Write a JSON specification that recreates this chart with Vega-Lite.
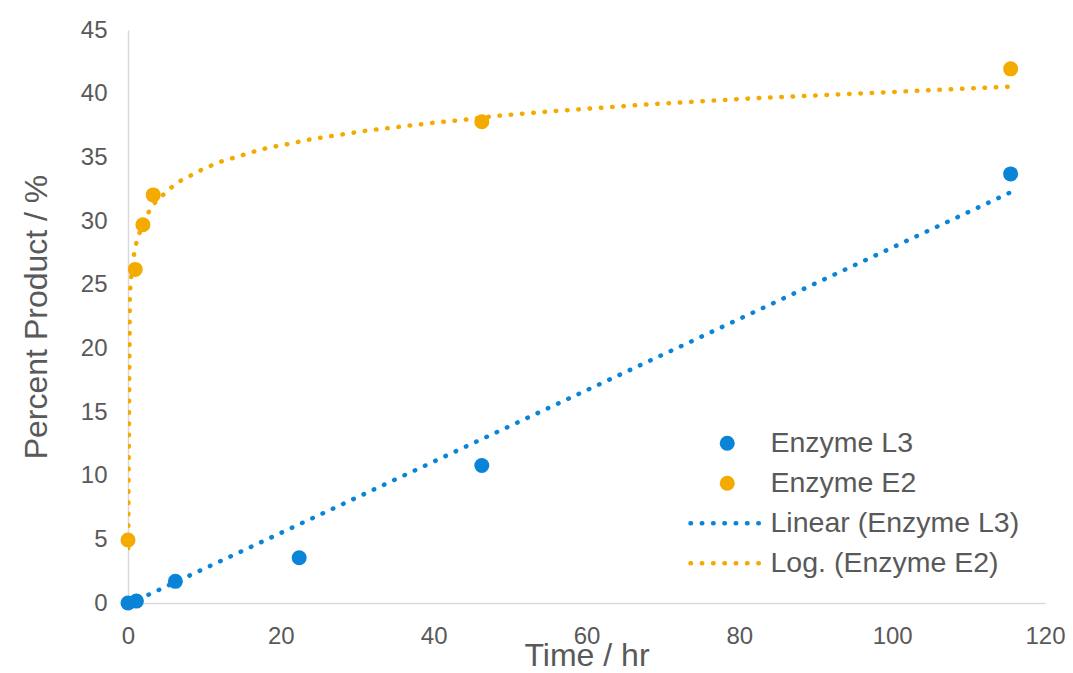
{
  "$schema": "https://vega.github.io/schema/vega-lite/v6.json",
  "width": 917,
  "height": 573,
  "autosize": "none",
  "padding": {"left": 128, "top": 30, "right": 28, "bottom": 70},
  "background": "white",
  "config": {
    "view": {"stroke": null},
    "font": "Liberation Sans",
    "axis": {
      "grid": false,
      "ticks": false,
      "labelFlush": false,
      "domainColor": "#D9D9D9",
      "domainWidth": 1.5,
      "labelColor": "#595959",
      "labelFont": "Liberation Sans",
      "labelFontSize": 24,
      "titleColor": "#595959",
      "titleFont": "Liberation Sans",
      "titleFontSize": 32,
      "titleFontWeight": "normal"
    }
  },
  "datasets": {
    "points": [
      {"time": 0, "product": 0, "series": "Enzyme L3"},
      {"time": 1.1, "product": 0.15, "series": "Enzyme L3"},
      {"time": 6.2, "product": 1.7, "series": "Enzyme L3"},
      {"time": 22.4, "product": 3.55, "series": "Enzyme L3"},
      {"time": 46.3, "product": 10.8, "series": "Enzyme L3"},
      {"time": 115.5, "product": 33.7, "series": "Enzyme L3"},
      {"time": 0, "product": 4.95, "series": "Enzyme E2"},
      {"time": 0.95, "product": 26.2, "series": "Enzyme E2"},
      {"time": 1.95, "product": 29.7, "series": "Enzyme E2"},
      {"time": 3.3, "product": 32.05, "series": "Enzyme E2"},
      {"time": 46.3, "product": 37.8, "series": "Enzyme E2"},
      {"time": 115.5, "product": 41.95, "series": "Enzyme E2"}
    ],
    "linear": [
      {"time": 0, "product": -0.1, "series": "Linear (Enzyme L3)"},
      {"time": 115.5, "product": 32.25, "series": "Linear (Enzyme L3)"}
    ],
    "log": [
      {"time": 0.02, "product": 4.3, "series": "Log. (Enzyme E2)"},
      {"time": 0.24, "product": 24.2, "series": "Log. (Enzyme E2)"},
      {"time": 0.33, "product": 25.0, "series": "Log. (Enzyme E2)"},
      {"time": 0.55, "product": 26.4, "series": "Log. (Enzyme E2)"},
      {"time": 0.85, "product": 27.6, "series": "Log. (Enzyme E2)"},
      {"time": 1.1, "product": 28.3, "series": "Log. (Enzyme E2)"},
      {"time": 1.9, "product": 29.8, "series": "Log. (Enzyme E2)"},
      {"time": 2.8, "product": 30.8, "series": "Log. (Enzyme E2)"},
      {"time": 3.6, "product": 31.5, "series": "Log. (Enzyme E2)"},
      {"time": 4.5, "product": 32.0, "series": "Log. (Enzyme E2)"},
      {"time": 5.6, "product": 32.6, "series": "Log. (Enzyme E2)"},
      {"time": 6.7, "product": 33.1, "series": "Log. (Enzyme E2)"},
      {"time": 8.0, "product": 33.5, "series": "Log. (Enzyme E2)"},
      {"time": 9.2, "product": 33.9, "series": "Log. (Enzyme E2)"},
      {"time": 10.5, "product": 34.25, "series": "Log. (Enzyme E2)"},
      {"time": 11.8, "product": 34.6, "series": "Log. (Enzyme E2)"},
      {"time": 13.2, "product": 34.85, "series": "Log. (Enzyme E2)"},
      {"time": 14.6, "product": 35.1, "series": "Log. (Enzyme E2)"},
      {"time": 15.9, "product": 35.35, "series": "Log. (Enzyme E2)"},
      {"time": 17.3, "product": 35.6, "series": "Log. (Enzyme E2)"},
      {"time": 18.7, "product": 35.8, "series": "Log. (Enzyme E2)"},
      {"time": 20.1, "product": 35.95, "series": "Log. (Enzyme E2)"},
      {"time": 21.5, "product": 36.1, "series": "Log. (Enzyme E2)"},
      {"time": 22.9, "product": 36.3, "series": "Log. (Enzyme E2)"},
      {"time": 24.2, "product": 36.45, "series": "Log. (Enzyme E2)"},
      {"time": 31.3, "product": 37.1, "series": "Log. (Enzyme E2)"},
      {"time": 39.7, "product": 37.7, "series": "Log. (Enzyme E2)"},
      {"time": 44.0, "product": 37.95, "series": "Log. (Enzyme E2)"},
      {"time": 48.1, "product": 38.25, "series": "Log. (Enzyme E2)"},
      {"time": 55.1, "product": 38.6, "series": "Log. (Enzyme E2)"},
      {"time": 67.9, "product": 39.15, "series": "Log. (Enzyme E2)"},
      {"time": 80.7, "product": 39.6, "series": "Log. (Enzyme E2)"},
      {"time": 93.5, "product": 39.95, "series": "Log. (Enzyme E2)"},
      {"time": 106.1, "product": 40.3, "series": "Log. (Enzyme E2)"},
      {"time": 115.5, "product": 40.55, "series": "Log. (Enzyme E2)"}
    ]
  },
  "encoding": {
    "x": {
      "field": "time",
      "type": "quantitative",
      "scale": {"domain": [0, 120], "nice": false, "zero": false},
      "axis": {
        "title": "Time / hr",
        "values": [0, 20, 40, 60, 80, 100, 120],
        "labelPadding": 21,
        "titlePadding": -8
      }
    },
    "y": {
      "field": "product",
      "type": "quantitative",
      "scale": {"domain": [0, 45], "nice": false},
      "axis": {
        "title": "Percent Product / %",
        "values": [0, 5, 10, 15, 20, 25, 30, 35, 40, 45],
        "labelPadding": 21,
        "titlePadding": 27
      }
    },
    "color": {
      "field": "series",
      "type": "nominal",
      "scale": {
        "domain": ["Enzyme L3", "Enzyme E2", "Linear (Enzyme L3)", "Log. (Enzyme E2)"],
        "range": ["#0A84D6", "#F5AA00", "#0A84D6", "#F5AA00"]
      },
      "legend": {
        "title": null,
        "orient": "none",
        "legendX": 585,
        "legendY": 399,
        "padding": 0,
        "labelFont": "Liberation Sans",
        "labelFontSize": 28.5,
        "labelColor": "#595959",
        "labelLimit": 500,
        "labelOffset": 29,
        "rowPadding": 11,
        "symbolSize": 225,
        "encode": {
          "symbols": {
            "update": {
              "shape": {"signal": "(datum.value === 'Linear (Enzyme L3)' || datum.value === 'Log. (Enzyme E2)') ? 'M-4.9,0H4.9' : 'circle'"},
              "strokeWidth": {"signal": "(datum.value === 'Linear (Enzyme L3)' || datum.value === 'Log. (Enzyme E2)') ? 4.5 : 0"},
              "stroke": {"signal": "(datum.value === 'Enzyme L3' || datum.value === 'Linear (Enzyme L3)') ? '#0A84D6' : '#F5AA00'"},
              "strokeDash": {"signal": "(datum.value === 'Linear (Enzyme L3)' || datum.value === 'Log. (Enzyme E2)') ? [0.5, 10.8] : [1, 0]"},
              "strokeCap": {"value": "round"}
            }
          }
        }
      }
    }
  },
  "layer": [
    {
      "data": {"name": "points"},
      "mark": {"type": "point", "filled": true, "size": 225, "opacity": 1, "strokeWidth": 0}
    },
    {
      "data": {"name": "linear"},
      "mark": {"type": "line", "strokeWidth": 4.5, "strokeDash": [0.5, 10.8], "strokeCap": "round", "clip": true}
    },
    {
      "data": {"name": "log"},
      "mark": {"type": "line", "strokeWidth": 4.5, "strokeDash": [0.5, 10.8], "strokeCap": "round", "clip": true}
    }
  ]
}
